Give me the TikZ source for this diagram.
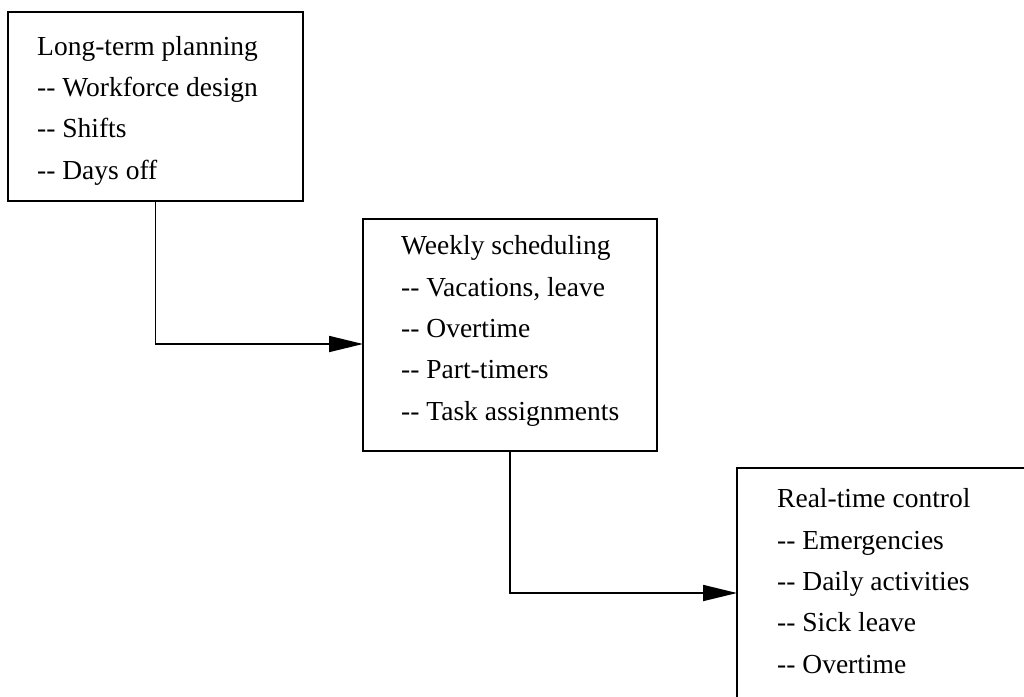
\documentclass[tikz,border=0pt]{standalone}
\usepackage{fontspec}
\setmainfont{Liberation Serif}
\usetikzlibrary{arrows.meta,calc}
\newcommand{\dd}{-{}-}
\begin{document}
\begin{tikzpicture}[x=1pt,y=-1pt,
  box/.style={draw, line width=2.1pt, rectangle, anchor=north west, inner sep=0pt, outer sep=0pt},
  lbl/.style={anchor=base west, align=left, inner sep=0pt, font=\fontsize{27.5}{41.3}\selectfont},
  link/.style={line width=1.8pt, -{Triangle[length=34pt,width=16pt]}}]
\useasboundingbox (0,0) rectangle (1024,696);
\clip (0,0) rectangle (1024,696);

% the three planning levels
\node[box, minimum width=295pt, minimum height=189pt] (b1) at (8,12) {};
\node[box, minimum width=294pt, minimum height=232pt] (b2) at (363,219) {};
\node[box, minimum width=300pt, minimum height=250pt] (b3) at (737,468) {};

% item lists, placed by the baseline of their last line
\node[lbl] (t1) at (37,179) {Long-term planning\\\dd{} Workforce design\\\dd{} Shifts\\\dd{} Days off};
\node[lbl] (t2) at (401,420) {Weekly scheduling\\\dd{} Vacations, leave\\\dd{} Overtime\\\dd{} Part-timers\\\dd{} Task assignments};
\node[lbl] (t3) at (777,673) {Real-time control\\\dd{} Emergencies\\\dd{} Daily activities\\\dd{} Sick leave\\\dd{} Overtime};

% hand-over from one level to the next
\draw[link] (b1.south) |- ($(b2.north west)+(0,125)$);
\draw[link] (b2.south) |- ($(b3.north west)+(0,125)$);
\end{tikzpicture}
\end{document}
